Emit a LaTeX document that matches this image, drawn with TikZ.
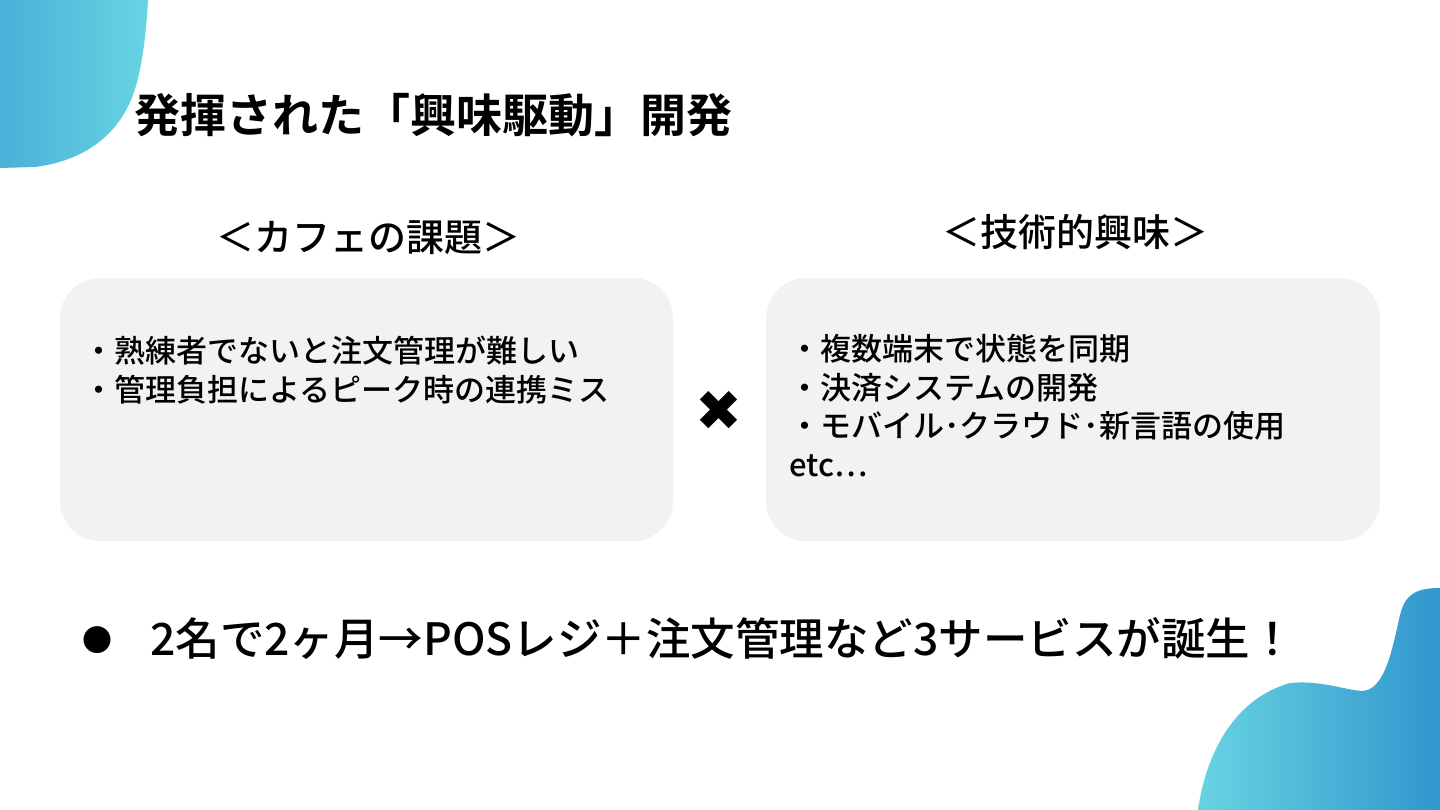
\documentclass[tikz,border=0pt]{standalone}
\usepackage{fontspec}
\setmainfont{Noto Sans CJK JP Medium}[BoldFont={Noto Sans CJK JP Bold}]
\newfontfamily\symfont{DejaVu Sans}
\definecolor{boxgray}{HTML}{F2F2F2}
\definecolor{tealA}{HTML}{4BB0D8}
\definecolor{tealB}{HTML}{68D4E2}
\definecolor{blueC}{HTML}{3196CD}
\begin{document}
\begin{tikzpicture}[x=1pt,y=-1pt,
  panel/.style={fill=boxgray,draw=none,rounded corners=40pt},
  titletext/.style={anchor=west,inner sep=0pt,font=\bfseries\fontsize{46}{55}\selectfont},
  headtext/.style={anchor=center,inner sep=0pt,font=\fontsize{38}{46}\selectfont},
  itemtext/.style={anchor=north west,inner sep=0pt,align=left,font=\fontsize{31}{38.5}\selectfont},
  bottomtext/.style={anchor=west,inner sep=0pt,font=\fontsize{44.5}{52}\selectfont}]
\useasboundingbox (0,0) rectangle (1440,810);
\fill[white] (0,0) rectangle (1440,810);
% top-left blob
\shade[left color=tealA,right color=tealB]
  (0,0) -- (148,0) .. controls (146,35) and (142,70) .. (133,95)
  .. controls (120,130) and (90,160) .. (35,167) -- (0,168) -- cycle;
% bottom-right blob
\shade[shading angle=60,left color=tealB,right color=blueC]
  (1198,810) .. controls (1205,760) and (1230,700) .. (1290,683)
  .. controls (1320,680) and (1345,690) .. (1362,691)
  .. controls (1385,690) and (1392,650) .. (1400,615)
  .. controls (1405,595) and (1415,588) .. (1440,588)
  -- (1440,810) -- cycle;
% title
\node[titletext] (title) at (134,115) {発揮された「興味駆動」開発};
% headers
\node[headtext] (h1) at (368,238) {＜カフェの課題＞};
\node[headtext] (h2) at (1075,232) {＜技術的興味＞};
% boxes
\path[panel] (60,278) rectangle (673,541);
\node[inner sep=0pt] (leftbox) at (366,410) {};
\path[panel] (766,278) rectangle (1380,541);
\node[inner sep=0pt] (rightbox) at (1073,410) {};
% box texts
\node[itemtext] (l1) at (83,336) {・熟練者でないと注文管理が難しい\\・管理負担によるピーク時の連携ミス};
\node[itemtext] (r1) at (789,334) {・複数端末で状態を同期\\・決済システムの開発\\・モバイル･クラウド･新言語の使用\\etc⋯};
% cross
\node[inner sep=0pt,font=\symfont\fontsize{56}{58}\selectfont] (cross) at (719,411) {✖};
% bottom line
\node[inner sep=0pt,font=\fontsize{30}{30}\selectfont] (bullet) at (97,640) {●};
\node[bottomtext] (bottom) at (150,638) {2名で2ヶ月→POSレジ＋注文管理など3サービスが誕生！};
\end{tikzpicture}
\end{document}
